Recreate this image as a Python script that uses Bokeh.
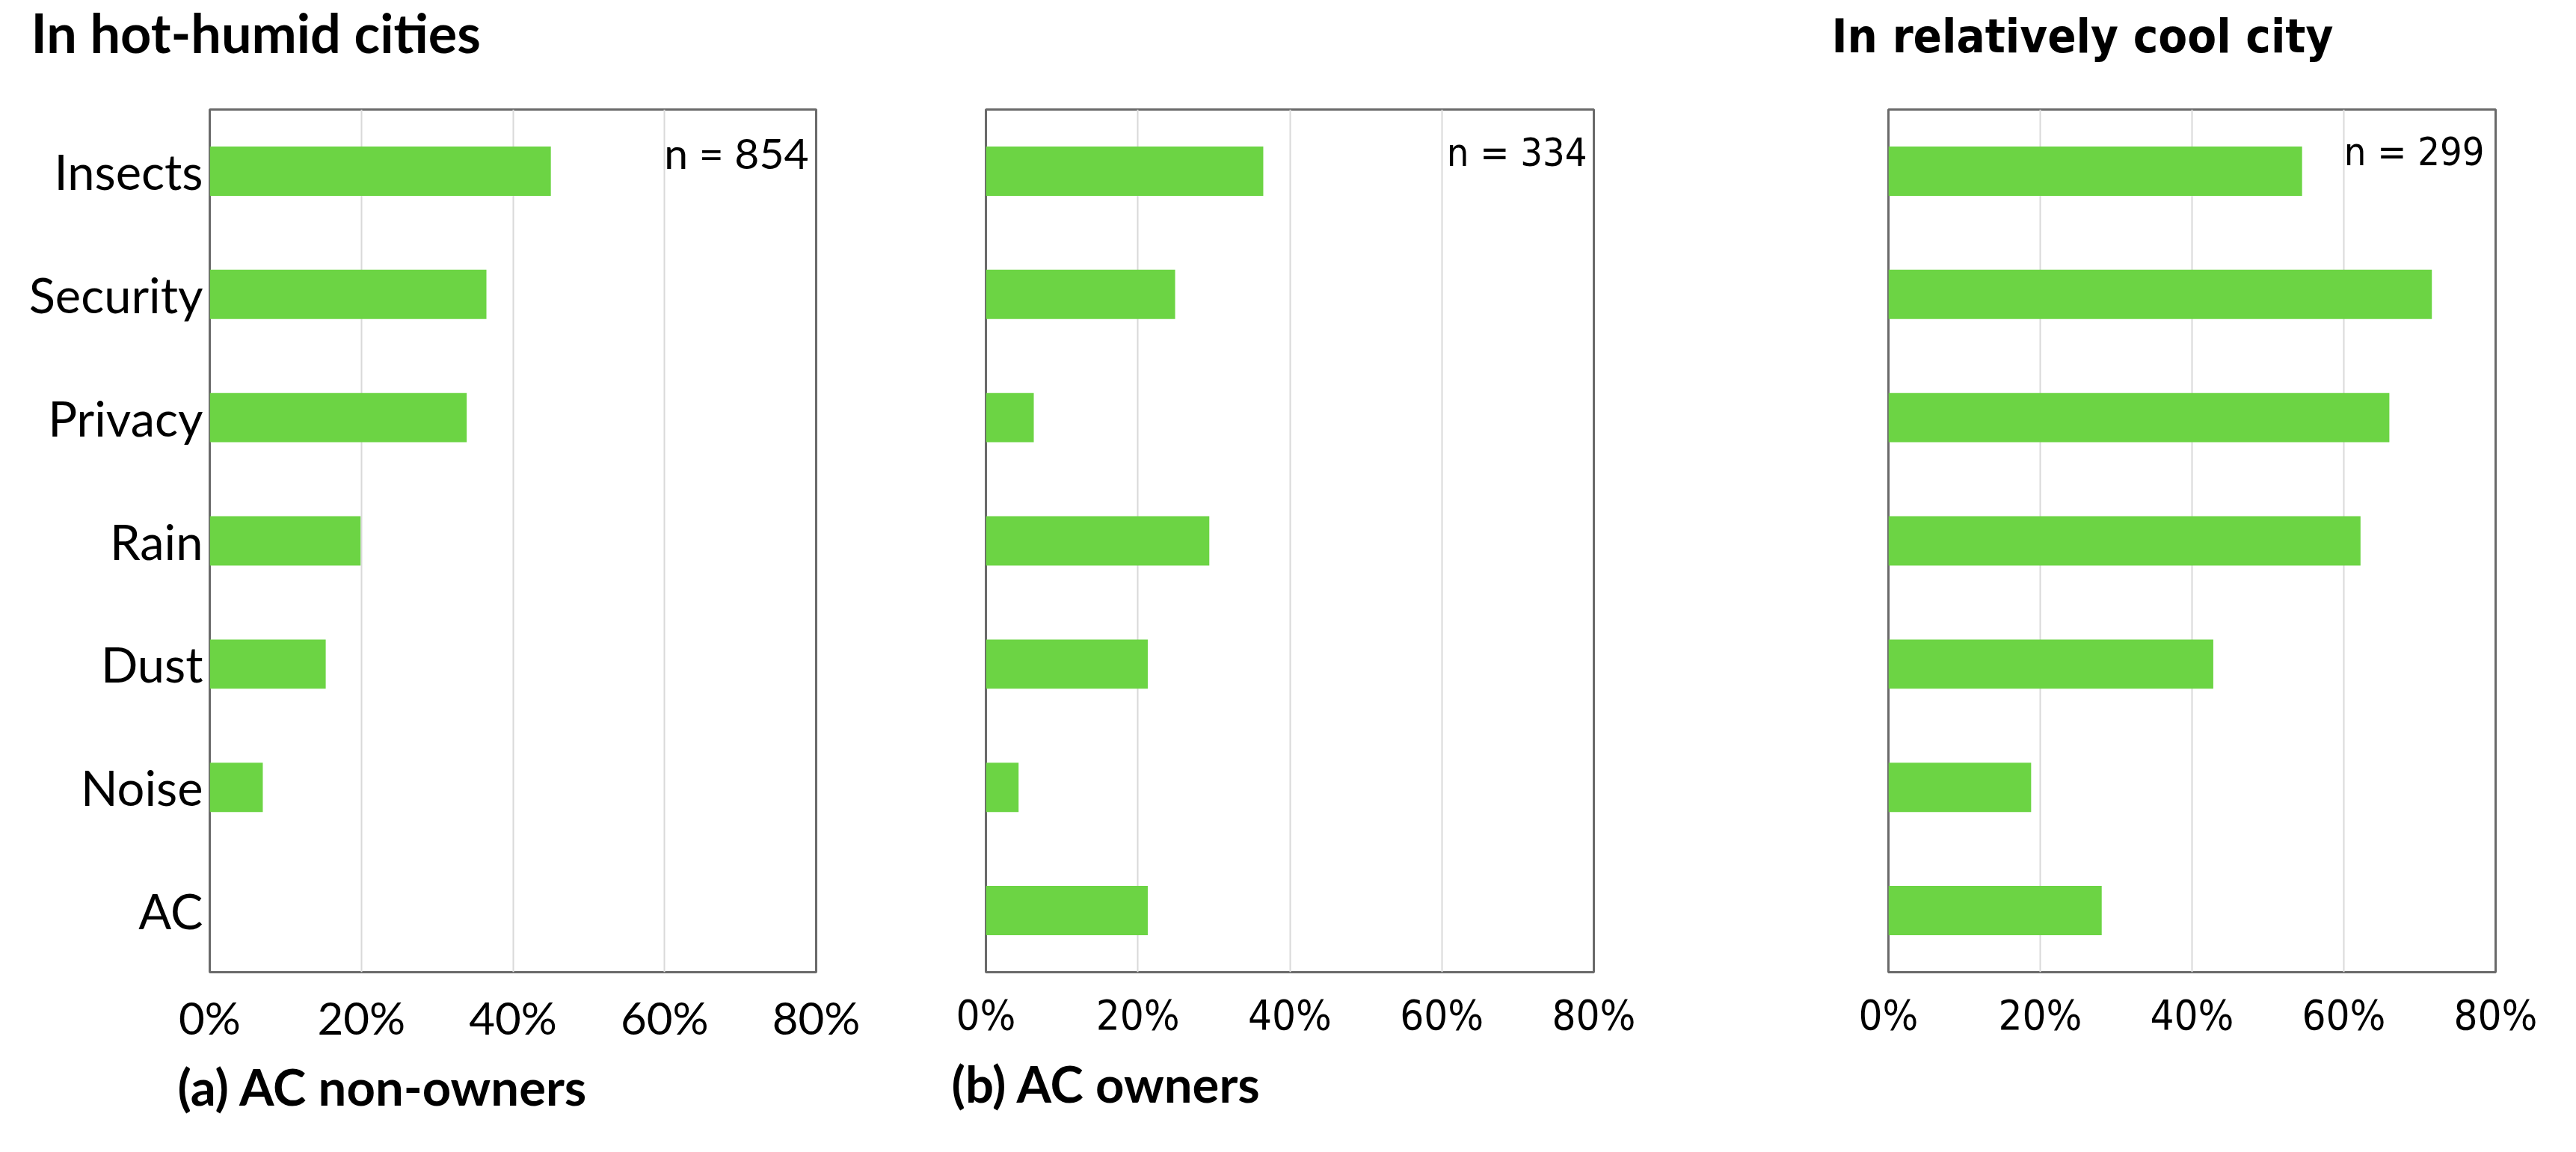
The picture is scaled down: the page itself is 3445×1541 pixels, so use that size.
from bokeh.plotting import figure
from bokeh.layouts import row
from bokeh.models import FactorRange, Range1d, Label, PrintfTickFormatter, FixedTicker, ColumnDataSource, Title
from bokeh.embed import file_html
from bokeh.resources import INLINE

categories = ["Insects", "Security", "Privacy", "Rain", "Dust", "Noise", "AC"]
non_owners = [45.0, 36.5, 33.9, 19.9, 15.3, 7.0, 0.0]
owners = [36.5, 24.9, 6.3, 29.4, 21.3, 4.3, 21.3]
cool_city = [54.5, 71.6, 66.0, 62.2, 42.8, 18.8, 28.1]
x_ticks = [0, 20, 40, 60, 80]

GREEN = "#6CD444"
CAL = "Lato"
VER = "'DejaVu Sans Condensed', 'DejaVu Sans'"

H = 1525
TOP = 146
BOT = 225


def panel(vals, width, bl, br, show_y, tick_font, tick_size, standoff):
    p = figure(width=width, height=H, title=None,
               y_range=FactorRange(factors=list(reversed(categories))),
               x_range=Range1d(0, 80),
               output_backend="svg", toolbar_location=None,
               min_border_left=bl, min_border_right=br,
               min_border_top=TOP, min_border_bottom=BOT,
               background_fill_color="white", border_fill_color="white")
    src = ColumnDataSource(dict(cat=categories, val=vals))
    p.hbar(y="cat", right="val", left=0, height=0.4, source=src,
           fill_color=GREEN, line_color=None)
    p.outline_line_color = "#6a6a6a"
    p.outline_line_width = 3
    p.xaxis.ticker = FixedTicker(ticks=x_ticks)
    p.xgrid.ticker = FixedTicker(ticks=x_ticks)
    p.xaxis.formatter = PrintfTickFormatter(format="%d%%")
    p.xgrid.grid_line_color = "#d9d9d9"
    p.xgrid.grid_line_width = 2
    p.ygrid.grid_line_color = None
    p.xaxis.axis_line_color = None
    p.xaxis.major_tick_line_color = None
    p.xaxis.minor_tick_line_color = None
    p.xaxis.major_tick_out = 0
    p.xaxis.major_tick_in = 0
    p.xaxis.major_label_text_font = tick_font
    p.xaxis.major_label_text_font_size = tick_size
    p.xaxis.major_label_text_color = "black"
    p.xaxis.major_label_standoff = standoff
    if show_y:
        p.yaxis.axis_line_color = None
        p.yaxis.major_tick_line_color = None
        p.yaxis.minor_tick_line_color = None
        p.yaxis.major_tick_out = 0
        p.yaxis.major_tick_in = 0
        p.yaxis.major_label_text_font = CAL
        p.yaxis.major_label_text_font_size = "65px"
        p.yaxis.major_label_text_color = "black"
        p.yaxis.major_label_standoff = 9
    else:
        p.yaxis.visible = False
    return p


p1 = panel(non_owners, 1192, 280, 101, True, CAL, "60px", 24)
p2 = panel(owners, 1150, 126, 211, False, VER, "56px", 24)
p3 = panel(cool_city, 1087, 183, 92, False, VER, "56px", 24)

# n labels (frame-relative screen units)
p1.add_layout(Label(x=801, y=1097, x_units="screen", y_units="screen", text="n = 854",
                    text_font=CAL, text_font_size="57px", text_align="right",
                    text_baseline="alphabetic", text_color="black"))
p2.add_layout(Label(x=804, y=1097, x_units="screen", y_units="screen", text="n = 334",
                    text_font=VER, text_font_size="52px", text_align="right",
                    text_baseline="alphabetic", text_color="black"))
p3.add_layout(Label(x=797, y=1098, x_units="screen", y_units="screen", text="n = 299",
                    text_font=VER, text_font_size="52px", text_align="right",
                    text_baseline="alphabetic", text_color="black"))

# titles above: a thin spacer next to the frame lifts the real title
p1.add_layout(Title(text=" ", text_font_size="1px", standoff=61), "above")
p1.add_layout(Title(text="In hot-humid cities", align="left", offset=-239, standoff=-6,
                    text_font=CAL, text_font_style="bold", text_font_size="72px",
                    text_color="black"), "above")

p3.add_layout(Title(text=" ", text_font_size="1px", standoff=59), "above")
p3.add_layout(Title(text="In relatively cool city", align="left", offset=-76, standoff=0,
                    text_font=VER, text_font_style="bold", text_font_size="63px",
                    text_color="black"), "above")

# bottom captions
p1.add_layout(Title(text="(a) AC non-owners", align="left", offset=-43, standoff=22,
                    text_font=CAL, text_font_style="bold", text_font_size="67px",
                    text_color="black"), "below")
p2.add_layout(Title(text="(b) AC owners", align="left", offset=-46, standoff=29,
                    text_font=CAL, text_font_style="bold", text_font_size="67px",
                    text_color="black"), "below")

layout = row(p1, p2, p3, spacing=0)
open("out.html", "w").write(file_html(layout, INLINE))
